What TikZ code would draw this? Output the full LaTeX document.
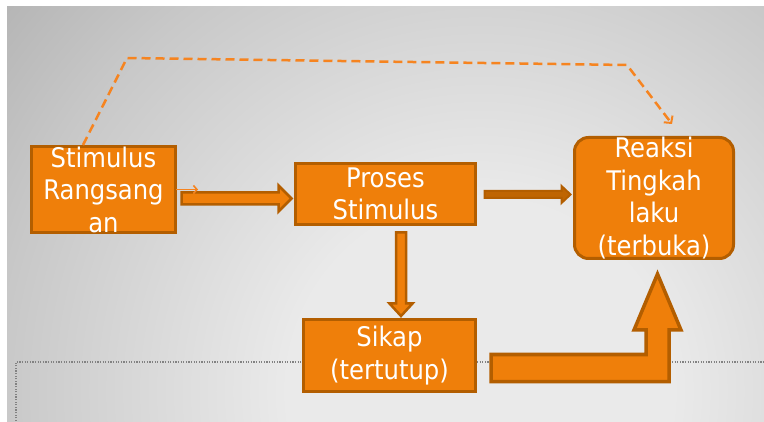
\documentclass[tikz,border=0pt]{standalone}
\usepackage{fontspec}
\setmainfont{DejaVu Sans Condensed}
\usetikzlibrary{calc,arrows.meta}
\definecolor{boxfill}{RGB}{239,127,10}
\definecolor{boxline}{RGB}{179,94,0}
\definecolor{dashor}{RGB}{246,132,32}
\definecolor{bgin}{RGB}{234,234,234}
\definecolor{bgmid}{RGB}{200,200,200}
\definecolor{bgout}{RGB}{182,182,182}
\definecolor{dotgray}{RGB}{130,130,130}
\pgfdeclareradialshading{bgshade}{\pgfpoint{0bp}{0bp}}{color(0bp)=(bgin); color(6bp)=(bgin); color(15bp)=(bgmid); color(19bp)=(bgout); color(25bp)=(bgout); color(50bp)=(bgout)}
\tikzset{
  box/.style={draw=boxline, fill=boxfill, line width=3pt, inner sep=0pt},
  boxtext/.style={text=white, align=center, inner sep=0pt, font=\fontsize{27}{32.5}\selectfont},
  blockarr/.style={draw=boxline, fill=boxfill, line width=2.5pt, line join=miter},
  dashline/.style={draw=dashor, line width=2.5pt, dash pattern=on 9pt off 5pt, -{Straight Barb[length=5pt,width=11pt,line width=2pt]}},
  smallarr/.style={draw=dashor, line width=1.6pt, -{Straight Barb[length=3.5pt,width=8pt]}},
  dotline/.style={draw=dotgray, line width=1.2pt, dash pattern=on 1.3pt off 1.3pt}
}
\begin{document}
\begin{tikzpicture}[x=1pt,y=1pt]
\useasboundingbox (0,0) rectangle (764,421);
\fill[white] (0,0) rectangle (764,421);
% background
\begin{scope}
  \clip (7,0) rectangle (764,414);
  \shade[shading=bgshade] (480,30) circle (800);
\end{scope}
% dotted placeholder frame
\draw[dotline] (16,0) -- (16,59) -- (764,59);

% boxes
\node[box, minimum width=144, minimum height=86] (stim) at (103.5,231.5) {};
\node[box, minimum width=180, minimum height=61] (proses) at (385.5,227) {};
\node[box, rounded corners=14pt, minimum width=159, minimum height=121] (reaksi) at (654,223) {};
\node[box, minimum width=172, minimum height=72] (sikap) at (389.5,65.5) {};

% texts
\node[boxtext] (stimT) at (stim.center) {Stimulus\\Rangsang\\an};
\node[boxtext] (prosesT) at (proses.center) {Proses\\Stimulus};
\node[boxtext] (reaksiT) at (reaksi.center) {Reaksi\\Tingkah\\laku\\(terbuka)};
\node[boxtext] (sikapT) at (sikap.center) {Sikap\\(tertutup)};

% block arrows
\draw[blockarr] ($(stim.east)+(4.5,-3)$) -- ++(97,0) -- ++(0,7) -- ++(13,-13) -- ++(-13,-13) -- ++(0,7) -- ++(-97,0) -- cycle;
\draw[blockarr, line width=2pt, fill=boxline!80!boxfill] ($(proses.east)+(7.5,3)$) -- ++(77,0) -- ++(0,5) -- ++(9,-8.5) -- ++(-9,-8.5) -- ++(0,5) -- ++(-77,0) -- cycle;
\draw[blockarr] ($(proses.south)+(10.5,-6.5)$) -- ++(0,-71) -- ++(-6.5,0) -- ++(11.5,-12.5) -- ++(11.5,12.5) -- ++(-6.5,0) -- ++(0,71) -- cycle;
\draw[blockarr, line width=3.5pt] ($(sikap.east)+(14,-26)$) -- ++(178,0) -- ++(0,51.5) -- ++(12,0) -- ++(-23.5,56) -- ++(-23.5,-56) -- ++(12,0) -- ++(0,-24.5) -- ++(-155,0) -- cycle;

% dashed feedback arrow
\coordinate (dashend) at ($(reaksi.north)+(18,12)$);
\draw[dashline] ($(stim.north)+(-20.5,0)$) -- ++(44,87) -- ++(500,-7) -- (dashend);

% small arrow
\coordinate (smallend) at ($(stim.east)+(21,0)$);
\draw[smallarr] ($(stim.east)+(-1,0)$) -- (smallend);
\end{tikzpicture}
\end{document}
